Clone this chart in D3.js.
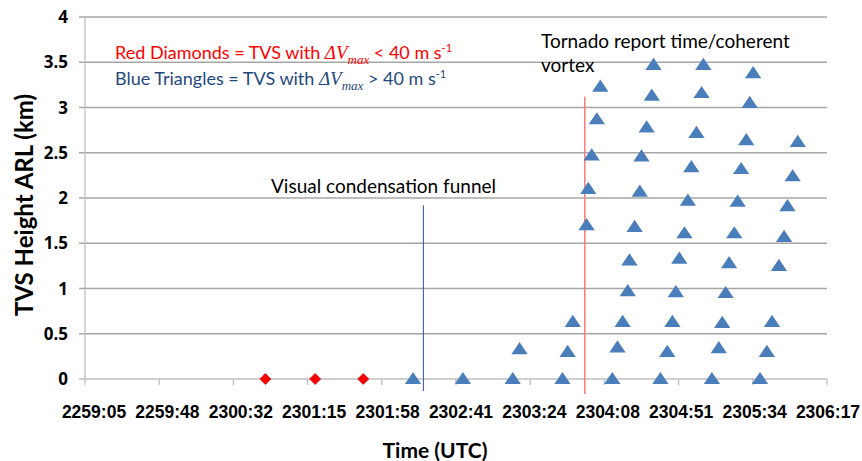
<!DOCTYPE html>
<html>
<head>
  <script src="https://d3js.org/d3.v7.min.js"></script>
  <style>
    body { margin: 0; background: #fff; }
    .grid line { stroke: #a6a6a6; stroke-width: 1.3px; }
    .axis text { font-family: "Liberation Sans", Arial, sans-serif; font-weight: bold; font-size: 17.5px; fill: #000; }
    .ylab { font-family: "Open Sans", sans-serif; font-weight: bold; font-size: 17px; }
    .note { font-family: Lato, "Open Sans", sans-serif; font-size: 19px; }
  </style>
</head>
<body>
  <svg width="862" height="461"></svg>
  <script>
    // x tick labels (every 43.2 s from 22:59:05)
    var tickLabels = ["2259:05", "2259:48", "2300:32", "2301:15", "2301:58", "2302:41",
      "2303:24", "2304:08", "2304:51", "2305:34", "2306:17"];
    var yTicks = [0, 0.5, 1, 1.5, 2, 2.5, 3, 3.5, 4];

    // red diamonds: TVS with dVmax < 40 m/s
    var diamondTimes = ["23:00:50", "23:01:19", "23:01:47"];
    var diamondHeights = [0, 0, 0];

    // blue triangles: TVS with dVmax > 40 m/s
    var triTimes = [
      "23:02:16",
      "23:02:45",
      "23:03:14", "23:03:18",
      "23:03:43", "23:03:46", "23:03:49", "23:03:57", "23:03:58", "23:04:00", "23:04:03", "23:04:05",
      "23:04:12", "23:04:15", "23:04:18", "23:04:21", "23:04:22", "23:04:25", "23:04:28", "23:04:29", "23:04:32", "23:04:35", "23:04:36",
      "23:04:40", "23:04:44", "23:04:47", "23:04:49", "23:04:51", "23:04:54", "23:04:56", "23:04:58", "23:05:01", "23:05:04", "23:05:05",
      "23:05:10", "23:05:14", "23:05:16", "23:05:18", "23:05:20", "23:05:23", "23:05:25", "23:05:27", "23:05:30", "23:05:32", "23:05:34",
      "23:05:38", "23:05:42", "23:05:45", "23:05:49", "23:05:52", "23:05:54", "23:05:57", "23:06:00"
    ];
    var triHeights = [
      0,
      0,
      0, 0.33,
      0, 0.30, 0.63, 1.70, 2.10, 2.47, 2.87, 3.23,
      0, 0.35, 0.63, 0.97, 1.31, 1.68, 2.07, 2.46, 2.78, 3.13, 3.47,
      0, 0.30, 0.63, 0.96, 1.33, 1.61, 1.97, 2.34, 2.72, 3.16, 3.47,
      0, 0.34, 0.62, 0.95, 1.28, 1.61, 1.96, 2.32, 2.64, 3.05, 3.38,
      0, 0.30, 0.63, 1.25, 1.57, 1.91, 2.24, 2.62
    ];

    // event markers: time and top height (km)
    var funnelTime = "23:02:22", funnelTop = 1.92;
    var tornadoTime = "23:03:56", tornadoTop = 3.12;

    var t0 = "22:59:05";
    function secs(s) {
      var p = s.split(":").map(Number);
      return p[0] * 3600 + p[1] * 60 + p[2];
    }
    function rel(s) { return secs(s) - secs(t0); }

    var svg = d3.select("svg"),
      margin = { top: 17, right: 35, bottom: 82, left: 85 },
      width = +svg.attr("width") - margin.left - margin.right,
      height = +svg.attr("height") - margin.top - margin.bottom;

    var x = d3.scaleLinear().domain([0, 432]).range([0, width]),
      y = d3.scaleLinear().domain([0, 4]).range([height, 0]);
    var xLab = d3.scaleLinear().domain(x.domain()).range([9, width + 1]);
    var tickVals = tickLabels.map(function(d, i) { return i * 43.2; });

    var g = svg.append("g")
      .attr("transform", "translate(" + margin.left + "," + margin.top + ")");

    // horizontal grid
    g.append("g").attr("class", "grid")
      .selectAll("line").data(yTicks.filter(function(d) { return d > 0; }))
      .enter().append("line")
      .attr("x1", -6).attr("x2", width)
      .attr("y1", function(d) { return y(d); })
      .attr("y2", function(d) { return y(d); });

    // y axis line
    g.append("line")
      .attr("x1", 0).attr("x2", 0).attr("y1", 0).attr("y2", height)
      .attr("stroke", "#bfbfbf").attr("stroke-width", 1.3);

    // x axis
    g.append("line")
      .attr("x1", -6).attr("x2", width).attr("y1", height).attr("y2", height)
      .attr("stroke", "#bfbfbf").attr("stroke-width", 1.5);
    g.append("g").selectAll("line").data(tickVals)
      .enter().append("line")
      .attr("x1", function(d) { return x(d); }).attr("x2", function(d) { return x(d); })
      .attr("y1", height).attr("y2", height + 6)
      .attr("stroke", "#bfbfbf").attr("stroke-width", 1.3);

    g.append("g").attr("class", "axis")
      .selectAll("text").data(tickVals)
      .enter().append("text")
      .attr("x", function(d) { return xLab(d); })
      .attr("y", height + 39)
      .attr("text-anchor", "middle")
      .text(function(d, i) { return tickLabels[i]; });

    // y tick labels
    g.append("g")
      .selectAll("text").data(yTicks)
      .enter().append("text")
      .attr("class", "ylab")
      .attr("x", -17)
      .attr("y", function(d) { return y(d); })
      .attr("dy", "0.36em")
      .attr("text-anchor", "end")
      .text(function(d) { return d; });

    // event lines
    g.append("line")
      .attr("x1", x(rel(funnelTime))).attr("x2", x(rel(funnelTime)))
      .attr("y1", y(funnelTop)).attr("y2", height + 12)
      .attr("stroke", "#2f4f9f").attr("stroke-width", 1);
    g.append("line")
      .attr("x1", x(rel(tornadoTime))).attr("x2", x(rel(tornadoTime)))
      .attr("y1", y(tornadoTop)).attr("y2", height + 15)
      .attr("stroke", "#f47a7a").attr("stroke-width", 1.5);

    // markers
    var tri = d3.symbol().type(d3.symbolTriangle).size(95);
    g.append("g").selectAll("path").data(triTimes)
      .enter().append("path")
      .attr("d", tri)
      .attr("transform", function(d, i) {
        return "translate(" + x(rel(d)) + "," + (y(triHeights[i]) + 1) + ") scale(1.1,0.95)";
      })
      .attr("fill", "#4a7ebb");

    var dia = d3.symbol().type(d3.symbolSquare).size(62);
    g.append("g").selectAll("path").data(diamondTimes)
      .enter().append("path")
      .attr("d", dia)
      .attr("transform", function(d, i) {
        return "translate(" + x(rel(d)) + "," + y(diamondHeights[i]) + ") rotate(45)";
      })
      .attr("fill", "#ff0000").attr("stroke", "#c00000").attr("stroke-width", 0.6);

    // legend text
    var serif = "'Liberation Serif', 'DejaVu Serif', serif";
    var leg = [
      { color: "#ff0000", lead: "Red Diamonds = TVS with ", rel: " < 40 m s", y: 59 },
      { color: "#1f497d", lead: "Blue Triangles = TVS with ", rel: " > 40 m s", y: 85 }
    ];
    leg.forEach(function(l) {
      var t = svg.append("text").attr("class", "note")
        .attr("x", 115).attr("y", l.y).attr("fill", l.color).style("font-size", "18px");
      t.append("tspan").text(l.lead);
      t.append("tspan").attr("font-family", serif).attr("font-style", "italic").attr("font-size", 19).text("\u0394V");
      t.append("tspan").attr("font-family", serif).attr("font-style", "italic").attr("font-size", 13).attr("dy", 5).text("max");
      t.append("tspan").attr("dy", -5).text(l.rel);
      t.append("tspan").attr("font-size", 11).attr("dy", -7).text("-1");
    });

    // annotations
    svg.append("text").attr("class", "note")
      .attr("x", 271).attr("y", 193).text("Visual condensation funnel");
    svg.append("text").attr("class", "note")
      .attr("x", 541).attr("y", 48).text("Tornado report time/coherent");
    svg.append("text").attr("class", "note")
      .attr("x", 541).attr("y", 72).text("vortex");

    // axis titles
    svg.append("text")
      .attr("x", 435).attr("y", 458)
      .attr("text-anchor", "middle")
      .style("font-family", "Lato, sans-serif").style("font-weight", "bold").style("font-size", "21px")
      .text("Time (UTC)");
    svg.append("text")
      .attr("transform", "translate(33,205) rotate(-90)")
      .attr("text-anchor", "middle")
      .style("font-family", "Lato, sans-serif").style("font-weight", "bold").style("font-size", "24px")
      .text("TVS Height ARL (km)");
  </script>
</body>
</html>
